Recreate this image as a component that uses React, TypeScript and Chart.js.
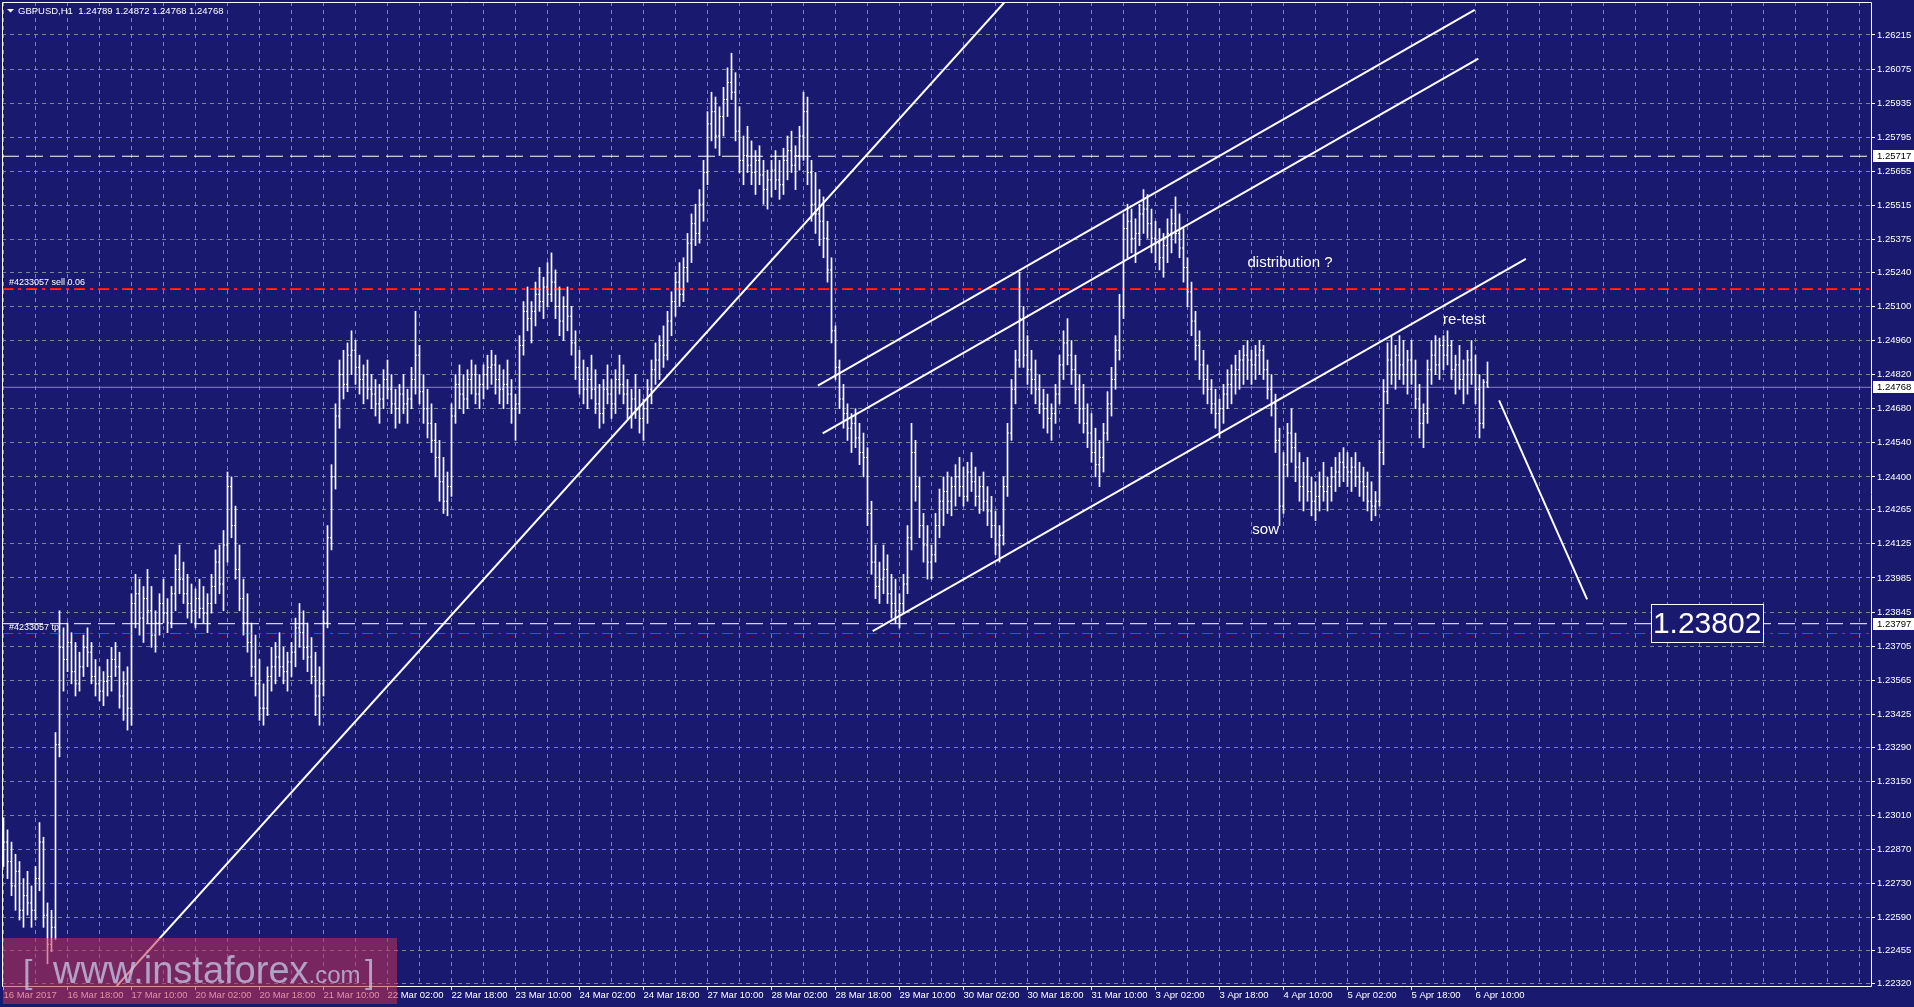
import React, { useEffect, useRef } from 'react';
import { Chart, registerables } from 'chart.js';

Chart.register(...registerables);

const BG = '#191970';
const GRID = 'rgb(119,136,153)';
const FONT = '"Liberation Sans", Arial, sans-serif';
const PIP = 10000;

const symbol = 'GBPUSD,H1';
const lastOHLC = [1.24789, 1.24872, 1.24768, 1.24768];

const xLabels = [
  '16 Mar 2017', '16 Mar 18:00', '17 Mar 10:00', '20 Mar 02:00', '20 Mar 18:00', '21 Mar 10:00',
  '22 Mar 02:00', '22 Mar 18:00', '23 Mar 10:00', '24 Mar 02:00', '24 Mar 18:00', '27 Mar 10:00',
  '28 Mar 02:00', '28 Mar 18:00', '29 Mar 10:00', '30 Mar 02:00', '30 Mar 18:00', '31 Mar 10:00',
  '3 Apr 02:00', '3 Apr 18:00', '4 Apr 10:00', '5 Apr 02:00', '5 Apr 18:00', '6 Apr 10:00',
];

const yTicks = [
  1.26215, 1.26075, 1.25935, 1.25795, 1.25655, 1.25515, 1.25375, 1.2524, 1.251, 1.2496,
  1.2482, 1.2468, 1.2454, 1.244, 1.24265, 1.24125, 1.23985, 1.23845, 1.23705, 1.23565,
  1.23425, 1.2329, 1.2315, 1.2301, 1.2287, 1.2273, 1.2259, 1.22455, 1.2232,
];

// hourly bars, prices in 1/10000 units
const highs = [
  12300,12295,12290,12285,12282,12275,12278,12272,12280,12298,12292,12265,12262,12335,12385,12378,
  12380,12376,12372,12368,12375,12378,12372,12365,12362,12360,12365,12370,12372,12368,12360,12362,
  12392,12400,12398,12395,12402,12395,12385,12392,12398,12390,12395,12408,12412,12405,12400,12396,
  12394,12398,12395,12392,12400,12410,12412,12418,12442,12440,12428,12412,12398,12392,12380,12375,
  12365,12355,12362,12370,12372,12376,12370,12368,12372,12382,12388,12385,12380,12374,12368,12362,
  12385,12420,12445,12470,12488,12492,12495,12500,12496,12490,12486,12488,12482,12480,12478,12484,
  12488,12482,12476,12478,12482,12476,12485,12508,12494,12482,12476,12470,12462,12455,12448,12442,
  12470,12482,12486,12482,12484,12488,12486,12482,12486,12490,12492,12490,12486,12484,12488,12480,
  12474,12498,12512,12518,12512,12520,12526,12522,12528,12532,12525,12518,12514,12518,12510,12500,
  12492,12488,12485,12490,12484,12478,12480,12486,12480,12484,12490,12486,12480,12476,12482,12476,
  12472,12480,12488,12495,12498,12502,12508,12516,12524,12528,12530,12540,12548,12552,12558,12570,
  12590,12598,12596,12592,12600,12608,12614,12606,12592,12580,12584,12578,12574,12576,12570,12566,
  12570,12574,12570,12575,12580,12582,12576,12584,12598,12596,12570,12565,12558,12555,12545,12530,
  12502,12488,12478,12470,12466,12468,12462,12458,12452,12430,12412,12405,12412,12408,12400,12398,
  12392,12400,12420,12462,12455,12440,12425,12420,12412,12425,12435,12440,12442,12440,12445,12448,
  12444,12446,12450,12444,12440,12442,12436,12432,12426,12420,12440,12462,12480,12492,12524,12510,
  12498,12492,12488,12482,12476,12474,12470,12478,12490,12500,12505,12496,12490,12482,12478,12470,
  12466,12460,12455,12462,12475,12485,12498,12515,12548,12552,12550,12546,12552,12558,12556,12550,
  12545,12542,12540,12546,12550,12555,12548,12542,12530,12520,12508,12500,12492,12486,12480,12476,
  12472,12478,12484,12486,12490,12492,12494,12496,12492,12494,12496,12494,12488,12482,12474,12460,
  12450,12462,12468,12458,12450,12446,12448,12440,12438,12442,12446,12440,12444,12448,12450,12452,
  12450,12448,12450,12446,12444,12442,12438,12434,12455,12480,12495,12498,12494,12498,12496,12492,
  12496,12488,12478,12470,12488,12496,12498,12497,12498,12500,12496,12490,12494,12488,12492,12496,
  12490,12482,12480,12487.2,
];

const lows = [
  12280,12275,12268,12262,12258,12255,12260,12255,12258,12270,12255,12240,12245,12250,12325,12352,
  12360,12355,12350,12352,12358,12362,12355,12350,12348,12346,12350,12352,12358,12345,12340,12336,
  12338,12378,12375,12372,12380,12370,12368,12375,12380,12376,12378,12385,12392,12388,12382,12380,
  12378,12382,12380,12376,12384,12388,12392,12385,12405,12415,12398,12385,12375,12368,12358,12350,
  12340,12338,12342,12352,12355,12358,12355,12352,12358,12362,12370,12365,12360,12355,12342,12338,
  12350,12378,12410,12435,12460,12472,12475,12482,12478,12474,12470,12472,12468,12465,12462,12468,
  12472,12466,12460,12462,12466,12462,12468,12474,12470,12462,12456,12450,12440,12430,12425,12424,
  12432,12462,12468,12466,12468,12474,12470,12468,12472,12476,12478,12474,12470,12468,12470,12462,
  12455,12466,12490,12500,12495,12502,12508,12505,12510,12512,12505,12498,12496,12500,12490,12480,
  12474,12470,12468,12472,12466,12460,12462,12470,12464,12466,12474,12470,12464,12460,12464,12458,
  12455,12462,12470,12478,12480,12485,12488,12498,12506,12510,12512,12520,12528,12535,12536,12545,
  12560,12578,12575,12572,12580,12588,12595,12578,12565,12560,12565,12560,12556,12560,12552,12550,
  12555,12558,12554,12556,12562,12565,12558,12566,12570,12560,12545,12540,12535,12530,12520,12495,
  12480,12468,12460,12455,12450,12452,12445,12440,12420,12400,12390,12388,12392,12388,12382,12380,
  12378,12384,12392,12410,12430,12415,12405,12398,12398,12405,12415,12420,12425,12424,12428,12432,
  12428,12430,12434,12428,12425,12426,12420,12415,12408,12405,12412,12432,12455,12470,12485,12485,
  12478,12474,12470,12466,12460,12458,12455,12462,12470,12480,12486,12478,12470,12462,12458,12452,
  12446,12440,12436,12442,12455,12465,12476,12488,12505,12530,12532,12528,12535,12540,12538,12532,
  12528,12525,12522,12528,12532,12536,12530,12520,12510,12498,12488,12480,12474,12470,12466,12460,
  12456,12462,12468,12470,12474,12476,12478,12480,12478,12480,12482,12480,12472,12465,12450,12420,
  12425,12440,12446,12438,12430,12426,12430,12424,12422,12426,12430,12426,12430,12434,12436,12438,
  12436,12434,12436,12432,12430,12426,12422,12424,12428,12445,12470,12478,12476,12480,12478,12474,
  12478,12468,12456,12452,12462,12478,12482,12480,12484,12486,12480,12474,12476,12470,12474,12478,
  12470,12456,12460,12476.8,
];

const closes = [
  12290,12282,12272,12278,12262,12268,12265,12262,12275,12290,12260,12248,12255,12330,12370,12365,
  12372,12360,12355,12362,12370,12368,12358,12355,12352,12356,12358,12365,12362,12350,12355,12345,
  12388,12392,12382,12390,12385,12375,12380,12388,12384,12380,12392,12402,12398,12392,12388,12385,
  12390,12386,12384,12388,12395,12405,12396,12412,12436,12420,12402,12390,12380,12372,12362,12355,
  12345,12345,12358,12362,12366,12362,12360,12364,12368,12378,12376,12370,12366,12358,12350,12355,
  12380,12415,12440,12465,12482,12478,12490,12492,12485,12480,12482,12476,12474,12470,12472,12480,
  12476,12470,12468,12474,12470,12472,12480,12490,12475,12468,12462,12455,12448,12438,12430,12436,
  12465,12478,12474,12472,12480,12482,12474,12478,12482,12485,12486,12480,12476,12478,12474,12468,
  12470,12494,12508,12505,12508,12515,12512,12518,12515,12520,12510,12504,12510,12506,12495,12485,
  12480,12476,12480,12476,12470,12466,12476,12474,12470,12480,12478,12474,12468,12472,12468,12464,
  12468,12476,12484,12488,12494,12490,12504,12512,12520,12515,12526,12536,12544,12540,12552,12565,
  12585,12590,12580,12588,12595,12602,12598,12582,12570,12572,12568,12565,12570,12564,12558,12562,
  12566,12562,12560,12570,12574,12568,12572,12580,12590,12565,12552,12548,12545,12538,12525,12500,
  12485,12472,12466,12460,12462,12456,12450,12448,12425,12405,12395,12398,12402,12392,12388,12385,
  12388,12396,12415,12450,12436,12420,12412,12405,12408,12420,12430,12434,12430,12436,12440,12436,
  12432,12442,12438,12432,12436,12430,12426,12420,12412,12416,12436,12458,12476,12488,12505,12490,
  12484,12480,12476,12470,12468,12464,12466,12474,12486,12495,12490,12484,12476,12468,12462,12458,
  12450,12445,12448,12458,12470,12480,12492,12510,12542,12545,12538,12540,12548,12550,12544,12538,
  12536,12530,12535,12540,12544,12540,12534,12526,12516,12504,12494,12486,12480,12476,12470,12466,
  12468,12474,12478,12482,12484,12488,12490,12488,12486,12490,12492,12484,12476,12470,12455,12428,
  12445,12458,12452,12444,12436,12440,12434,12430,12432,12436,12434,12436,12440,12442,12446,12444,
  12442,12444,12440,12438,12436,12430,12428,12430,12450,12475,12488,12482,12490,12486,12482,12488,
  12482,12472,12462,12466,12484,12490,12486,12494,12490,12494,12484,12486,12480,12482,12488,12482,
  12476,12462,12478.9,12476.8,
];
const firstOpen = 12295;

// drawn objects, in (bar index, price)
const supportLine = [{ x: 28.3, y: 1.223089 }, { x: 250.3, y: 1.263505 }];
const channelUpper = [{ x: 203.6, y: 1.247745 }, { x: 367.8, y: 1.263185 }];
const channelMiddle = [{ x: 204.8, y: 1.24579 }, { x: 368.7, y: 1.261181 }];
const channelLower = [{ x: 217.3, y: 1.237665 }, { x: 380.6, y: 1.252958 }];
const projection = [{ x: 373.9, y: 1.247141 }, { x: 395.9, y: 1.238968 }];

const resistanceLevel = 1.25717;
const targetLevel = 1.23797;
const bidLevel = 1.24768;
const sellLevel = 1.251737;
const sellShadowLevel = 1.251696;
const tpLevel = 1.237567;
const orderTicket = '#4233057';
const orderText = 'sell 0.06';

const notes = [
  { text: 'distribution ?', x: 311.0, y: 1.252806 },
  { text: 're-test', x: 359.9, y: 1.250444 },
  { text: 'sow', x: 312.2, y: 1.241827 },
];
const targetLabel = { text: '1.23802', x: 425.9, y: 1.237986 };
const axisMarks = [resistanceLevel, bidLevel, targetLevel];

const X_MIN = -0.375;
const X_MAX = 466.875;
const Y_MIN = 1.223089;
const Y_MAX = 1.263505;

const overlayPlugin = {
  id: 'mtOverlay',
  afterDatasetsDraw(chart: any) {
    const { ctx, scales } = chart;
    const xs = scales.x;
    const ys = scales.y;
    ctx.save();
    ctx.fillStyle = '#ffffff';
    ctx.font = `15px ${FONT}`;
    ctx.textBaseline = 'middle';
    ctx.textAlign = 'left';
    notes.forEach((n) => {
      ctx.fillText(n.text, xs.getPixelForValue(n.x), ys.getPixelForValue(n.y));
    });
    const cx = xs.getPixelForValue(targetLabel.x);
    const cy = ys.getPixelForValue(targetLabel.y);
    const bx = Math.round(cx - 56.5) + 0.5;
    const by = Math.round(cy - 19) + 0.5;
    ctx.fillStyle = BG;
    ctx.fillRect(bx, by, 112, 38);
    ctx.strokeStyle = '#ffffff';
    ctx.lineWidth = 1;
    ctx.strokeRect(bx, by, 112, 38);
    ctx.fillStyle = '#ffffff';
    ctx.font = `30px ${FONT}`;
    ctx.textAlign = 'center';
    ctx.fillText(targetLabel.text, cx, cy + 1);
    ctx.restore();
  },
  afterDraw(chart: any) {
    const { ctx, chartArea, scales } = chart;
    const ys = scales.y;
    ctx.save();
    ctx.strokeStyle = '#ffffff';
    ctx.lineWidth = 1;
    ctx.beginPath();
    ctx.moveTo(chartArea.left + 0.5, chartArea.top + 0.5);
    ctx.lineTo(chartArea.right + 0.5, chartArea.top + 0.5);
    ctx.lineTo(chartArea.right + 0.5, chartArea.bottom + 0.5);
    ctx.lineTo(chartArea.left + 0.5, chartArea.bottom + 0.5);
    ctx.closePath();
    ctx.stroke();
    ctx.fillStyle = '#ffffff';
    ctx.beginPath();
    ctx.moveTo(7, 9);
    ctx.lineTo(14, 9);
    ctx.lineTo(10.5, 12.5);
    ctx.closePath();
    ctx.fill();
    ctx.font = `9.5px ${FONT}`;
    ctx.textBaseline = 'middle';
    ctx.textAlign = 'left';
    ctx.fillText(`${symbol}  ${lastOHLC.map((v) => v.toFixed(5)).join(' ')}`, 18, 11);
    ctx.font = `9px ${FONT}`;
    ctx.fillText(`${orderTicket} ${orderText}`, 9, ys.getPixelForValue(sellLevel) - 5.5);
    ctx.fillText(`${orderTicket} tp`, 9, ys.getPixelForValue(tpLevel) - 6);
    axisMarks.forEach((p) => {
      const y = Math.round(ys.getPixelForValue(p));
      ctx.fillStyle = '#ffffff';
      ctx.fillRect(chartArea.right + 2, y - 6, 60, 12);
      ctx.fillStyle = '#000000';
      ctx.font = `9.5px ${FONT}`;
      ctx.fillText(p.toFixed(5), chartArea.right + 6, y + 0.5);
    });
    ctx.fillStyle = 'rgba(196, 50, 82, 0.55)';
    ctx.fillRect(3, 938, 394, 66);
    ctx.fillStyle = 'rgba(196, 196, 226, 0.78)';
    ctx.textBaseline = 'alphabetic';
    ctx.font = `34px ${FONT}`;
    ctx.fillText('[', 23, 983);
    ctx.fillText(']', 365, 983);
    ctx.font = `38px ${FONT}`;
    const main = 'www.instaforex';
    ctx.fillText(main, 53, 983);
    const w = ctx.measureText(main).width;
    ctx.font = `24px ${FONT}`;
    ctx.fillText('.com', 53 + w, 983);
    ctx.restore();
  },
};

export default function App() {
  const ref = useRef<HTMLCanvasElement>(null);
  useEffect(() => {
    document.body.style.margin = '0';
    document.body.style.background = BG;
    const idx = highs.map((_, i) => i);
    const opens = closes.map((c, i) => (i === 0 ? firstOpen : closes[i - 1]));
    const rangeData = idx.map((i) => ({ x: i, y: [lows[i] / PIP, highs[i] / PIP] }));
    const openData = idx.map((i) => ({
      x: i - 0.1875,
      y: Math.min(Math.max(opens[i], lows[i]), highs[i]) / PIP,
    }));
    const closeData = idx.map((i) => ({ x: i + 0.1875, y: closes[i] / PIP }));
    const hline = (p: number) => [{ x: X_MIN, y: p }, { x: X_MAX, y: p }];
    const lineDs = (data: any[], color: string, width: number, dash: number[], order: number) => ({
      type: 'line',
      data,
      borderColor: color,
      borderWidth: width,
      borderDash: dash,
      pointRadius: 0,
      pointHoverRadius: 0,
      fill: false,
      tension: 0,
      order,
    });
    const tickDs = (data: any[]) => ({
      type: 'scatter',
      data,
      pointStyle: 'line',
      pointRadius: 0.75,
      pointHoverRadius: 0.75,
      borderColor: '#ffffff',
      backgroundColor: '#ffffff',
      pointBorderColor: '#ffffff',
      pointBorderWidth: 1,
      borderWidth: 1,
      showLine: false,
      order: 2,
    });

    const chart = new Chart(ref.current as HTMLCanvasElement, {
      type: 'scatter',
      data: {
        datasets: [
          lineDs(supportLine, '#ffffff', 2, [], 0),
          lineDs(channelUpper, '#ffffff', 2, [], 0),
          lineDs(channelMiddle, '#ffffff', 2, [], 0),
          lineDs(channelLower, '#ffffff', 2, [], 0),
          lineDs(projection, '#ffffff', 2, [], 0),
          lineDs(hline(resistanceLevel), '#ffffff', 1, [17, 7], 1),
          lineDs(hline(targetLevel), '#ffffff', 1, [17, 7], 1),
          {
            type: 'bar',
            data: rangeData,
            backgroundColor: '#ffffff',
            borderWidth: 0,
            barThickness: 1,
            grouped: false,
            order: 2,
          },
          tickDs(openData),
          tickDs(closeData),
          lineDs(hline(bidLevel), 'rgb(140,140,150)', 1, [], 3),
          lineDs(hline(sellLevel), 'rgb(255,20,0)', 1, [11, 5, 3, 5], 3),
          lineDs(hline(tpLevel), 'rgb(255,20,0)', 1, [11, 5, 3, 5], 3),
          lineDs(hline(sellShadowLevel), 'rgb(0,170,0)', 1, [11, 5, 3, 5], 4),
        ] as any,
      },
      options: {
        responsive: false,
        animation: false,
        events: [],
        layout: { padding: { left: 2, top: 2, right: 0, bottom: 0 } },
        plugins: { legend: { display: false }, tooltip: { enabled: false }, title: { display: false } },
        scales: {
          x: {
            type: 'linear',
            position: 'bottom',
            min: X_MIN,
            max: X_MAX,
            offset: false,
            afterBuildTicks: (s: any) => {
              s.ticks = Array.from({ length: 59 }, (_, k) => ({ value: k * 8 }));
            },
            afterFit: (s: any) => {
              s.height = 21;
              s.paddingLeft = 0;
              s.paddingRight = 0;
            },
            grid: {
              color: GRID,
              lineWidth: 1,
              offset: false,
              drawTicks: true,
              tickLength: 4,
              tickWidth: 1,
              tickBorderDash: [],
              tickColor: (c: any) =>
                c.index % 2 === 0 && c.index / 2 < xLabels.length ? '#ffffff' : 'rgba(0,0,0,0)',
            },
            border: { display: false, dash: [4, 4] },
            ticks: {
              autoSkip: false,
              maxRotation: 0,
              minRotation: 0,
              align: 'start',
              padding: 0,
              color: '#ffffff',
              font: { family: FONT, size: 9.5 },
              callback: (_v: any, i: number) => (i % 2 === 0 ? xLabels[i / 2] ?? '' : ''),
            },
          },
          y: {
            type: 'linear',
            position: 'right',
            min: Y_MIN,
            max: Y_MAX,
            afterBuildTicks: (s: any) => {
              s.ticks = yTicks.map((v) => ({ value: v }));
            },
            afterFit: (s: any) => {
              s.width = 43;
              s.paddingTop = 0;
              s.paddingBottom = 0;
            },
            grid: {
              color: GRID,
              lineWidth: 1,
              tickLength: 4,
              tickWidth: 1,
              tickBorderDash: [],
              tickColor: '#ffffff',
            },
            border: { display: false, dash: [4, 4] },
            ticks: {
              color: '#ffffff',
              padding: 2,
              font: { family: FONT, size: 9.5 },
              callback: (v: any) => Number(v).toFixed(5),
            },
          },
        },
      } as any,
      plugins: [overlayPlugin],
    });
    return () => chart.destroy();
  }, []);

  return (
    <div style={{ width: 1914, height: 1007, background: BG, position: 'relative', overflow: 'hidden' }}>
      <canvas ref={ref} width={1914} height={1007} style={{ display: 'block', width: 1914, height: 1007 }} />
    </div>
  );
}
